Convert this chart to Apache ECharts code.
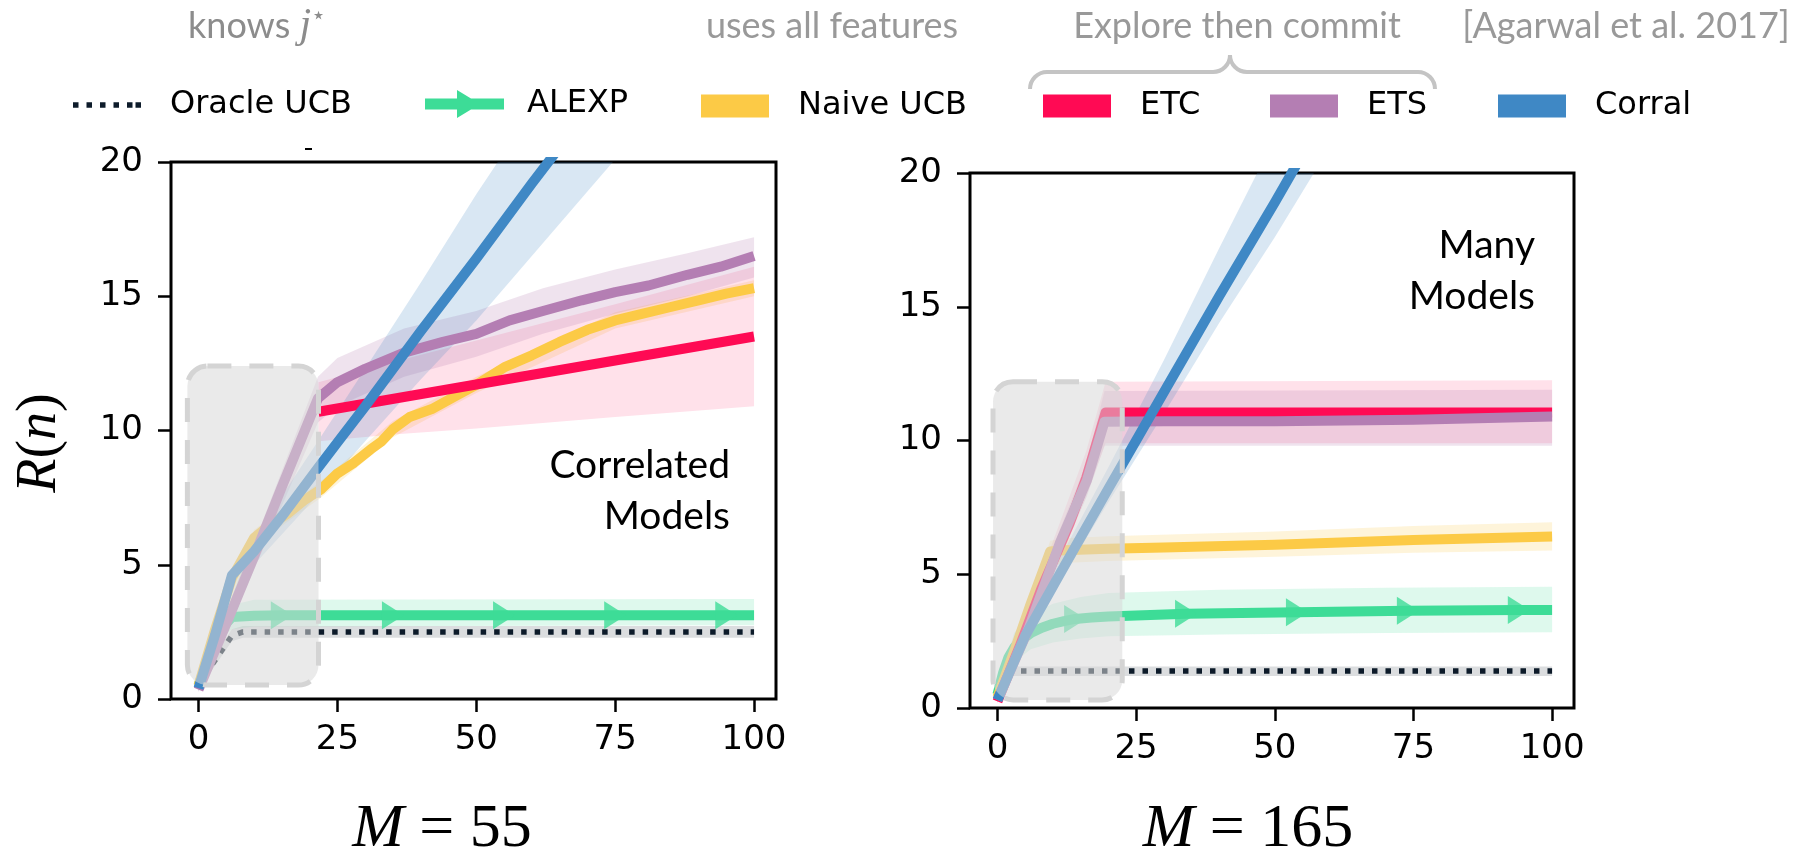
<!DOCTYPE html>
<html>
<head>
<meta charset="utf-8">
<script src="https://cdn.jsdelivr.net/npm/echarts@6/dist/echarts.min.js"></script>
<style>
  html, body { margin: 0; background: #fff; }
  #chart { width: 1812px; height: 857px; }
</style>
</head>
<body>
<div id="chart"></div>
<script>
// values: [step, regret] and bands [step, low, high]
const xTicks = [0, 25, 50, 75, 100];
const panelM = ['55', '165'];
const panelNotes = ['Correlated\nModels', 'Many\nModels'];

// ---- M = 55 (correlated models) ----
const oracle55 = [[0, 0.45], [2, 1.15], [6, 2.35], [8, 2.5], [100, 2.5]];
const oracle55Band = [[0, 0.3, 0.6], [2, 0.95, 1.35], [6, 2.15, 2.6], [8, 2.28, 2.72], [100, 2.28, 2.72]];
const alexp55 = [[0, 0.5], [2, 1.6], [4, 2.6], [6, 3.05], [10, 3.1], [15, 3.12], [35, 3.12], [55, 3.12], [75, 3.12], [95, 3.12], [100, 3.12]];
const alexp55Band = [[0, 0.4, 0.6], [2, 1.3, 1.9], [4, 2.2, 3.0], [6, 2.6, 3.5], [10, 2.7, 3.7], [100, 2.75, 3.72]];
const alexp55Marks = [15, 35, 55, 75, 95];
const naive55 = [[0, 0.5], [3, 2.6], [6, 4.5], [10, 6.0], [13, 6.5], [16, 6.9], [19, 7.4], [22, 7.8], [25, 8.4], [28, 8.8], [31, 9.3], [33, 9.6], [35, 10.05], [38, 10.5], [42, 10.8], [46, 11.25], [50, 11.7], [55, 12.35], [60, 12.8], [65, 13.3], [70, 13.75], [75, 14.1], [80, 14.35], [85, 14.6], [90, 14.85], [95, 15.1], [100, 15.3]];
const naive55Band = [[0, 0.4, 0.6], [10, 5.7, 6.3], [22, 7.5, 8.1], [35, 9.75, 10.35], [50, 11.4, 12.0], [75, 13.8, 14.4], [100, 15.0, 15.6]];
const etc55 = [[21.6, 10.7], [100, 13.5]];
const etc55Band = [[21.6, 9.6, 11.8], [35, 9.85, 12.55], [50, 10.07, 13.35], [75, 10.5, 14.7], [100, 10.9, 16.1]];
const ets55 = [[0, 0.35], [5, 2.8], [10, 5.3], [15, 7.9], [21.5, 11.2], [25, 11.8], [30, 12.3], [37, 12.9], [44, 13.3], [50, 13.6], [56, 14.1], [62, 14.45], [69, 14.85], [75, 15.15], [81, 15.4], [88, 15.8], [94, 16.1], [100, 16.5]];
const ets55Band = [[0, 0.25, 0.45], [10, 4.8, 5.8], [21.5, 10.3, 12.0], [25, 10.9, 12.7], [37, 12.0, 13.8], [50, 12.75, 14.45], [62, 13.6, 15.3], [75, 14.35, 16.0], [88, 15.0, 16.6], [100, 15.7, 17.2]];
const corral55 = [[0, 0.4], [3, 2.4], [6, 4.6], [10, 5.5], [15, 6.8], [21.5, 8.6], [25, 9.55], [30, 10.9], [40, 13.7], [50, 16.4], [60, 19.2], [70, 21.9], [80, 24.7], [100, 30.2]];
const corral55Band = [[0, 0.3, 0.5], [10, 5.0, 6.0], [21.5, 7.6, 9.6], [30, 9.6, 12.3], [40, 11.9, 15.5], [50, 14.1, 18.8], [60, 16.5, 21.9], [70, 18.9, 25.0], [80, 21.3, 28.0], [100, 26.0, 34.5]];
const box55 = [-2.0, 0.52, 21.6, 12.4];

// ---- M = 165 (many models) ----
const oracle165 = [[0, 0.35], [2.5, 1.38], [100, 1.38]];
const oracle165Band = [[0, 0.25, 0.45], [2.5, 1.2, 1.55], [100, 1.2, 1.55]];
const alexp165 = [[0, 0.5], [1, 1.3], [2, 1.9], [3, 2.25], [4, 2.5], [6, 2.8], [8, 3.0], [10, 3.15], [12, 3.25], [14, 3.33], [17, 3.38], [20, 3.42], [25, 3.46], [34, 3.52], [54, 3.58], [74, 3.64], [94, 3.66], [100, 3.66]];
const alexp165Band = [[0, 0.4, 0.6], [3, 1.7, 2.8], [6, 2.2, 3.5], [10, 2.45, 3.9], [15, 2.6, 4.15], [20, 2.68, 4.3], [40, 2.75, 4.42], [70, 2.8, 4.5], [100, 2.83, 4.53]];
const alexp165Marks = [14, 34, 54, 74, 94];
const naive165 = [[0, 0.4], [3, 2.1], [6, 3.9], [9.5, 5.85], [12, 5.9], [20, 5.95], [30, 6.0], [50, 6.1], [75, 6.28], [100, 6.41]];
const naive165Band = [[0, 0.3, 0.5], [9.5, 5.3, 6.25], [12, 5.42, 6.35], [20, 5.5, 6.42], [50, 5.65, 6.6], [75, 5.8, 6.8], [100, 5.89, 6.94]];
const etc165 = [[0, 0.25], [4, 2.3], [8, 4.5], [13, 6.9], [16, 8.6], [19.5, 11.05], [100, 11.05]];
const etc165Band = [[0, 0.2, 0.3], [8, 3.9, 5.1], [16, 7.9, 9.6], [19.5, 9.9, 12.2], [100, 9.9, 12.25]];
const ets165 = [[0, 0.3], [5.3, 2.8], [11.3, 6.2], [16.1, 8.5], [19.3, 10.7], [30, 10.72], [50, 10.72], [75, 10.78], [100, 10.9]];
const ets165Band = [[0, 0.2, 0.4], [5.3, 2.4, 3.2], [11.3, 5.7, 6.7], [16.1, 7.9, 9.2], [19.3, 9.8, 11.85], [100, 9.8, 11.9]];
const corral165 = [[0, 0.3], [5, 2.7], [11.3, 5.03], [20, 8.2], [25, 10.0], [30, 11.8], [40, 15.4], [50, 18.9], [60, 22.5], [100, 36.7]];
const corral165Band = [[0, 0.2, 0.4], [10, 4.3, 5.1], [20, 7.7, 9.0], [30, 11.0, 13.0], [40, 14.4, 17.2], [50, 17.6, 21.3], [60, 21.0, 25.5], [100, 34.5, 41.0]];
const box165 = [-0.8, 0.3, 22.5, 12.2];

const colors = {
  'Oracle UCB': '#0d1b2a',
  'ALEXP': '#3ddc97',
  'Naive UCB': '#fcca46',
  'ETC': '#ff0a54',
  'ETS': '#b47eb3',
  'Corral': '#3f88c5'
};

const panels = [
  {oracle: oracle55, oracleBand: oracle55Band, alexp: alexp55, alexpBand: alexp55Band, marks: alexp55Marks,
   naive: naive55, naiveBand: naive55Band, etc: etc55, etcBand: etc55Band, ets: ets55, etsBand: ets55Band,
   corral: corral55, corralBand: corral55Band, box: box55},
  {oracle: oracle165, oracleBand: oracle165Band, alexp: alexp165, alexpBand: alexp165Band, marks: alexp165Marks,
   naive: naive165, naiveBand: naive165Band, etc: etc165, etcBand: etc165Band, ets: ets165, etsBand: ets165Band,
   corral: corral165, corralBand: corral165Band, box: box165}
];

const tickFont = 'DejaVu Sans';
const grids = [
  {left: 171, top: 162, width: 605, height: 537},
  {left: 970, top: 173, width: 604, height: 535}
];

function lineSeries(name, data, gi, extra) {
  return Object.assign({
    name: name, type: 'line', xAxisIndex: gi, yAxisIndex: gi, data: data,
    symbol: 'none', z: 3, silent: true, animation: false,
    lineStyle: {color: colors[name], width: 10, cap: 'butt', join: 'round'},
    itemStyle: {color: colors[name]}
  }, extra || {});
}

// filled band between low and high, clipped to the plot area
function bandSeries(name, band, gi, alpha) {
  return {
    type: 'custom', xAxisIndex: gi, yAxisIndex: gi, z: 1, silent: true,
    data: band,
    renderItem: function (params, api) {
      if (params.dataIndex !== 0) return null;
      let upper = band.map(b => api.coord([b[0], b[2]]));
      let lower = band.slice().reverse().map(b => api.coord([b[0], b[1]]));
      let cs = params.coordSys;
      return {
        type: 'polygon',
        shape: {points: upper.concat(lower)},
        style: {fill: colors[name], opacity: alpha},
        clipPath: {type: 'rect', shape: {x: cs.x, y: cs.y, width: cs.width, height: cs.height}}
      };
    }
  };
}

function makeSeries() {
  let series = [];
  panels.forEach((p, gi) => {
    series.push(bandSeries('Oracle UCB', p.oracleBand, gi, 0.15));
    series.push(bandSeries('ALEXP', p.alexpBand, gi, 0.17));
    series.push(bandSeries('Naive UCB', p.naiveBand, gi, 0.2));
    series.push(bandSeries('ETC', p.etcBand, gi, 0.12));
    series.push(bandSeries('ETS', p.etsBand, gi, 0.22));
    series.push(bandSeries('Corral', p.corralBand, gi, 0.2));

    series.push(lineSeries('Oracle UCB', p.oracle, gi, {
      lineStyle: {color: colors['Oracle UCB'], width: 5.5, type: [5.5, 8], cap: 'butt'}
    }));
    series.push(lineSeries('ALEXP', p.alexp, gi));
    series.push({
      name: 'ALEXP-marks-' + gi, type: 'scatter', xAxisIndex: gi, yAxisIndex: gi, silent: true, z: 4,
      symbol: 'triangle', symbolRotate: -90, symbolSize: [28, 22],
      itemStyle: {color: colors['ALEXP']},
      data: p.marks.map(m => p.alexp.find(d => d[0] === m))
    });
    series.push(lineSeries('Naive UCB', p.naive, gi));
    series.push(lineSeries('ETC', p.etc, gi));
    series.push(lineSeries('ETS', p.ets, gi));
    series.push(lineSeries('Corral', p.corral, gi));

    // shaded exploration window on top of the curves
    series.push({
      type: 'custom', xAxisIndex: gi, yAxisIndex: gi, z: 5, silent: true,
      data: [p.box],
      renderItem: function (params, api) {
        let a = api.coord([api.value(0), api.value(3)]);
        let b = api.coord([api.value(2), api.value(1)]);
        return {
          type: 'rect',
          shape: {x: a[0], y: a[1], width: b[0] - a[0], height: b[1] - a[1], r: 20},
          style: {fill: 'rgba(216,216,216,0.55)', stroke: '#d4d4d4', lineWidth: 5, lineDash: [24, 18]}
        };
      }
    });
  });
  return series;
}

function makeAxes(kind) {
  return grids.map((g, gi) => {
    if (kind === 'x') {
      return {
        type: 'value', gridIndex: gi, min: -4.95, max: 103.95,
        splitLine: {show: false}, axisLine: {show: false, onZero: false},
        axisTick: {show: true, length: 13, lineStyle: {color: '#000', width: 2.5}, customValues: xTicks},
        axisLabel: {customValues: xTicks, fontSize: 34, fontFamily: tickFont, color: '#000', margin: 24}
      };
    }
    return {
      type: 'value', gridIndex: gi, min: 0, max: 20, interval: 5,
      splitLine: {show: false}, axisLine: {show: false, onZero: false},
      axisTick: {show: true, length: 13, lineStyle: {color: '#000', width: 2.5}},
      axisLabel: {fontSize: 34, fontFamily: tickFont, color: '#000', margin: 28}
    };
  });
}

const alexpIcon = 'path://M0,85 L320,85 L320,0 L460,85 L790,85 L790,195 L460,195 L320,280 L320,195 L0,195 Z';
const oracleIcon = 'path://M0,0 h55 v55 h-55 Z M135,0 h55 v55 h-55 Z M270,0 h55 v55 h-55 Z M405,0 h55 v55 h-55 Z M540,0 h55 v55 h-55 Z M625,0 h55 v55 h-55 Z';

function legendItem(name, left, opts) {
  return Object.assign({
    left: left, top: 90, padding: 0, orient: 'horizontal', selectedMode: false,
    itemWidth: 68, itemHeight: 23, symbolKeepAspect: false,
    data: [{name: name, icon: 'rect'}],
    itemStyle: {borderWidth: 0},
    textStyle: {fontFamily: tickFont, fontSize: 32, color: '#000', padding: [0, 0, 0, 24]}
  }, opts || {});
}

const legends = [
  legendItem('Oracle UCB', 73, {top: 89, itemHeight: 5.5, data: [{name: 'Oracle UCB', icon: oracleIcon}]}),
  legendItem('ALEXP', 425, {
    top: 88, itemWidth: 79, itemHeight: 28, data: [{name: 'ALEXP', icon: alexpIcon}],
    textStyle: {fontFamily: tickFont, fontSize: 32, color: '#000', padding: [0, 0, 0, 18]}
  }),
  legendItem('Naive UCB', 701),
  legendItem('ETC', 1043),
  legendItem('ETS', 1270),
  legendItem('Corral', 1498)
];

const grey = '#999999';
const braceGrey = '#c4c4c4';
const annoFont = 'Lato';
function text(x, y, str, style) {
  return {type: 'text', x: x, y: y, z: 50, silent: true,
    style: Object.assign({text: str, fill: '#000', align: 'center', verticalAlign: 'middle'}, style)};
}

const graphic = [
  text(188, 26, '{a|knows }{b|j}{c|\u22c6}', {
    align: 'left', fill: grey,
    rich: {
      a: {fontFamily: annoFont, fontSize: 36, fill: '#8c8c8c'},
      b: {fontFamily: 'Liberation Serif', fontStyle: 'italic', fontSize: 42, fill: '#8c8c8c'},
      c: {fontFamily: 'DejaVu Sans', fontSize: 24, fill: '#8c8c8c', verticalAlign: 'top', lineHeight: 22}
    }
  }),
  text(832, 26, 'uses all features', {fontFamily: annoFont, fontSize: 36, fill: grey}),
  text(1237, 26, 'Explore then commit', {fontFamily: annoFont, fontSize: 36, fill: grey}),
  text(1626, 26, '[Agarwal et al. 2017]', {fontFamily: annoFont, fontSize: 36, fill: grey}),
  // curly brace over ETC / ETS
  {type: 'arc', z: 50, silent: true, shape: {cx: 1047, cy: 89, r: 17, startAngle: Math.PI, endAngle: Math.PI * 1.5, clockwise: true},
   style: {stroke: braceGrey, lineWidth: 4, fill: 'none'}},
  {type: 'line', z: 50, silent: true, shape: {x1: 1047, y1: 72, x2: 1213, y2: 72}, style: {stroke: braceGrey, lineWidth: 4}},
  {type: 'arc', z: 50, silent: true, shape: {cx: 1213, cy: 55, r: 17, startAngle: Math.PI / 2, endAngle: 0, clockwise: false},
   style: {stroke: braceGrey, lineWidth: 4, fill: 'none'}},
  {type: 'arc', z: 50, silent: true, shape: {cx: 1247, cy: 55, r: 17, startAngle: Math.PI, endAngle: Math.PI / 2, clockwise: false},
   style: {stroke: braceGrey, lineWidth: 4, fill: 'none'}},
  {type: 'line', z: 50, silent: true, shape: {x1: 1247, y1: 72, x2: 1418, y2: 72}, style: {stroke: braceGrey, lineWidth: 4}},
  {type: 'arc', z: 50, silent: true, shape: {cx: 1418, cy: 89, r: 17, startAngle: Math.PI * 1.5, endAngle: Math.PI * 2, clockwise: true},
   style: {stroke: braceGrey, lineWidth: 4, fill: 'none'}},
  // small stray tick above the left panel
  {type: 'line', z: 50, silent: true, shape: {x1: 305, y1: 149, x2: 312, y2: 149}, style: {stroke: '#000', lineWidth: 2}},
  // panel notes
  text(730, 491, panelNotes[0], {align: 'right', fontFamily: annoFont, fontSize: 39, lineHeight: 51}),
  text(1535, 271, panelNotes[1], {align: 'right', fontFamily: annoFont, fontSize: 39, lineHeight: 51}),
  // axis titles
  {type: 'text', x: 40, y: 443, rotation: Math.PI / 2, z: 50, silent: true,
   style: {text: '{i|R}({i|n})', align: 'center', verticalAlign: 'middle', fontFamily: 'Liberation Serif', fontSize: 56, fill: '#000',
     rich: {i: {fontFamily: 'Liberation Serif', fontStyle: 'italic', fontSize: 56}}}},
  text(442, 830, '{i|M} = ' + panelM[0], {fontFamily: 'Liberation Serif', fontSize: 62,
    rich: {i: {fontFamily: 'Liberation Serif', fontStyle: 'italic', fontSize: 62}}}),
  text(1248, 830, '{i|M} = ' + panelM[1], {fontFamily: 'Liberation Serif', fontSize: 62,
    rich: {i: {fontFamily: 'Liberation Serif', fontStyle: 'italic', fontSize: 62}}})
];

let chart = echarts.init(document.getElementById('chart'), null, {renderer: 'canvas'});
chart.setOption({
  animation: false,
  backgroundColor: '#fff',
  grid: grids.map(g => Object.assign({show: true, borderColor: '#000', borderWidth: 3, backgroundColor: 'transparent',
    containLabel: false, outerBoundsMode: 'none'}, g)),
  xAxis: makeAxes('x'),
  yAxis: makeAxes('y'),
  legend: legends,
  series: makeSeries(),
  graphic: graphic
});
</script>
</body>
</html>
